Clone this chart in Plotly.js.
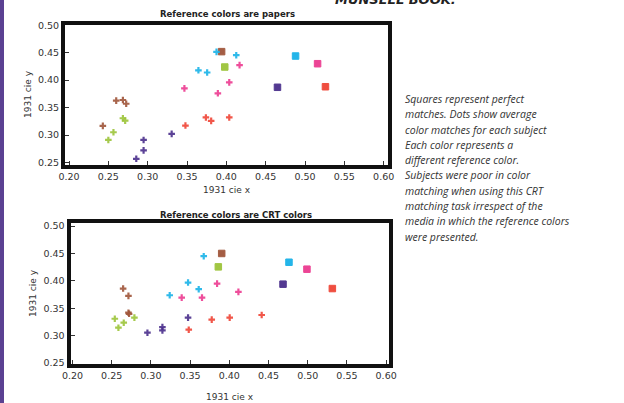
<!DOCTYPE html>
<html>
<head>
<meta charset="utf-8">
<script src="https://cdn.plot.ly/plotly-3.0.1.min.js"></script>
<style>
  html, body { margin: 0; padding: 0; background: #fff; }
  #chart { width: 624px; height: 403px; }
  #bar { position: absolute; left: 0; top: 0; width: 4px; height: 403px; background: #5b4192; z-index: 5; }
</style>
</head>
<body>
<div id="bar"></div>
<div id="chart"></div>
<script>
// ---- Data ----
const colorNames = ['brown', 'green', 'cyan', 'pink', 'red', 'purple'];
const colorHex = ['#a0553a', '#9cc43a', '#19b2e8', '#ec3b90', '#ef4536', '#4a2f8c'];

// Top panel: reference colors are papers
const paperSquareX = [0.394, 0.398, 0.488, 0.516, 0.526, 0.465];
const paperSquareY = [0.452, 0.424, 0.444, 0.430, 0.388, 0.387];
const paperDotX = [
  [0.260, 0.2685, 0.2727, 0.243],
  [0.2685, 0.2714, 0.2565, 0.250],
  [0.3875, 0.4126, 0.3645, 0.3756],
  [0.4168, 0.4037, 0.3467, 0.3892],
  [0.348, 0.374, 0.3807, 0.4037],
  [0.3305, 0.2948, 0.2948, 0.2855]
];
const paperDotY = [
  [0.3626, 0.3638, 0.357, 0.3166],
  [0.3305, 0.3263, 0.305, 0.291],
  [0.4516, 0.4455, 0.418, 0.414],
  [0.4274, 0.396, 0.385, 0.376],
  [0.3172, 0.332, 0.3257, 0.332],
  [0.302, 0.291, 0.272, 0.2566]
];

// Bottom panel: reference colors are CRT colors
const crtSquareX = [0.3903, 0.386, 0.4761, 0.499, 0.5314, 0.4685];
const crtSquareY = [0.450, 0.4256, 0.434, 0.4213, 0.386, 0.394];
const crtDotX = [
  [0.2646, 0.2714, 0.2714, 0.2722],
  [0.254, 0.279, 0.2654, 0.2586],
  [0.3674, 0.3474, 0.361, 0.324],
  [0.3844, 0.4116, 0.3393, 0.3652],
  [0.4413, 0.4005, 0.3776, 0.3483],
  [0.3474, 0.3147, 0.3147, 0.2956]
];
const crtDotY = [
  [0.386, 0.3726, 0.342, 0.340],
  [0.331, 0.333, 0.3238, 0.3146],
  [0.445, 0.397, 0.3848, 0.3738],
  [0.395, 0.380, 0.3695, 0.3695],
  [0.3378, 0.333, 0.3293, 0.311],
  [0.333, 0.3158, 0.3097, 0.3055]
];

const panelTitles = ['Reference colors are papers', 'Reference colors are CRT colors'];
const xAxisTitle = '1931 cie x';
const yAxisTitle = '1931 cie y';
const noteLines = [
  'Squares represent perfect',
  'matches. Dots show average',
  'color matches for each subject',
  'Each color represents a',
  'different reference color.',
  'Subjects were poor in color',
  'matching when using this CRT',
  'matching task irrespect of the',
  'media in which the reference colors',
  'were presented.'
];
const headerText = 'MUNSELL BOOK.';

// ---- Traces ----
const traces = [];
function addPanel(sqX, sqY, dX, dY, xa, ya) {
  colorNames.forEach((name, i) => {
    traces.push({
      type: 'scatter', mode: 'markers', xaxis: xa, yaxis: ya, name: name + ' subjects',
      x: dX[i], y: dY[i],
      marker: { symbol: 'cross', size: 5.5, color: colorHex[i], opacity: 0.9,
                line: { width: 0 } },
      hoverinfo: 'x+y'
    });
    traces.push({
      type: 'scatter', mode: 'markers', xaxis: xa, yaxis: ya, name: name + ' reference',
      x: [sqX[i]], y: [sqY[i]],
      marker: { symbol: 'square', size: 6.5, color: colorHex[i], opacity: 0.95,
                line: { width: 1, color: colorHex[i] } },
      hoverinfo: 'x+y'
    });
  });
}
addPanel(paperSquareX, paperSquareY, paperDotX, paperDotY, 'x', 'y');
addPanel(crtSquareX, crtSquareY, crtDotX, crtDotY, 'x2', 'y2');

const W = 624, H = 403;
const tickFont = { family: 'DejaVu Sans', size: 9.5, color: '#333' };
const titleFont = { family: 'DejaVu Sans', size: 9, color: '#333' };

function xAxis(domain, range, anchor, standoff) {
  return {
    domain: domain, range: range, anchor: anchor,
    tick0: 0.2, dtick: 0.05, tickformat: '.2f',
    ticks: 'inside', ticklen: 4, tickwidth: 1, tickcolor: '#333',
    showline: true, mirror: true, linewidth: 4, linecolor: '#111',
    showgrid: false, zeroline: false, tickfont: tickFont,
    title: { text: xAxisTitle, font: titleFont, standoff: standoff }
  };
}
function yAxis(domain, range, anchor) {
  return {
    domain: domain, range: range, anchor: anchor,
    tick0: 0.25, dtick: 0.05, tickformat: '.2f',
    ticks: 'inside', ticklen: 4, tickwidth: 1, tickcolor: '#333',
    showline: true, mirror: true, linewidth: 4, linecolor: '#111',
    showgrid: false, zeroline: false, tickfont: tickFont,
    title: { text: yAxisTitle, font: titleFont, standoff: 6 }
  };
}

const annotations = [
  { text: '<b>' + panelTitles[0] + '</b>', xref: 'paper', yref: 'paper',
    x: 227 / W, y: (H - 14) / H, xanchor: 'center', yanchor: 'middle', showarrow: false,
    font: { family: 'DejaVu Sans', size: 8.5, color: '#222' } },
  { text: '<b>' + panelTitles[1] + '</b>', xref: 'paper', yref: 'paper',
    x: 236 / W, y: (H - 215) / H, xanchor: 'center', yanchor: 'middle', showarrow: false,
    font: { family: 'DejaVu Sans', size: 8.5, color: '#222' } },
  { text: '<b><i>' + headerText + '</i></b>', xref: 'paper', yref: 'paper',
    x: 395 / W, y: (H + 1) / H, xanchor: 'center', yanchor: 'middle', showarrow: false,
    font: { family: 'DejaVu Sans', size: 13, color: '#222' } }
];
noteLines.forEach((line, i) => {
  annotations.push({
    text: '<i>' + line + '</i>', xref: 'paper', yref: 'paper',
    x: 403 / W, y: (H - (99 + 15.3 * i)) / H, xanchor: 'left', yanchor: 'middle',
    showarrow: false, align: 'left',
    font: { family: 'Open Sans', size: 10.5, color: '#333' }
  });
});

const layout = {
  width: W, height: H,
  margin: { l: 0, r: 0, t: 0, b: 0 },
  paper_bgcolor: '#fff', plot_bgcolor: '#fff',
  showlegend: false,
  xaxis: xAxis([65 / W, 388 / W], [0.1949, 0.6055], 'y', 7),
  yaxis: yAxis([(H - 164.5) / H, (H - 24.5) / H], [0.2462, 0.5015], 'x'),
  xaxis2: xAxis([70.5 / W, 388.5 / W], [0.1975, 0.603], 'y2', 15),
  yaxis2: yAxis([(H - 363.7) / H, (H - 223.3) / H], [0.249, 0.505], 'x2'),
  annotations: annotations
};

Plotly.newPlot('chart', traces, layout, { displayModeBar: false, staticPlot: true });
</script>
</body>
</html>
